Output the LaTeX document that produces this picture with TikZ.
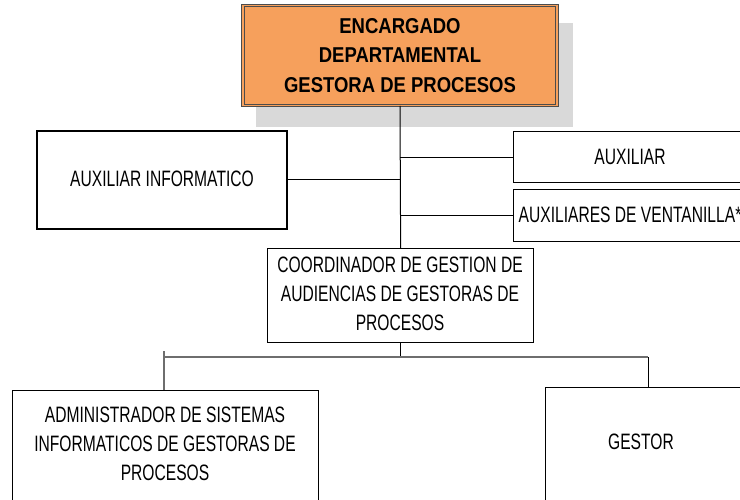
\documentclass[tikz,border=0pt]{standalone}
\usepackage{fontspec}
\setmainfont{Liberation Sans}[FakeStretch=0.70]
\newfontfamily\boldnarrow{Liberation Sans}[FakeStretch=0.86]
\definecolor{boxorange}{HTML}{F6A05C}
\definecolor{shadowgray}{HTML}{D9D9D9}
\definecolor{busgray}{HTML}{6E6E6E}
\begin{document}
\begin{tikzpicture}[x=1pt,y=-1pt,
  box/.style={draw=black, line width=1.3pt, fill=white, inner sep=0pt},
  txt/.style={align=center, font=\fontsize{22.3}{29.2}\selectfont, inner sep=0pt},
  topbox/.style={draw=black!70, fill=boxorange, line width=1pt, double=boxorange, double distance=1.3pt, inner sep=0pt,
    align=center, font=\fontsize{21.5}{29.5}\selectfont\boldnarrow\bfseries},
  link/.style={draw=black, line width=1pt},
  buslink/.style={draw=busgray, line width=1.3pt}
]
\useasboundingbox (0,0) rectangle (740,500);
% shadow
\fill[shadowgray] (256,23) rectangle (573,127);
% top box
\node[topbox, minimum width=314, minimum height=100] (top) at (400,55.5)
  {ENCARGADO\\DEPARTAMENTAL\\GESTORA DE PROCESOS};
% left box
\node[box, minimum width=250, minimum height=98] (auxinf) at (162,180) {};
\node[txt] (auxinftxt) at (162,179) {AUXILIAR INFORMATICO};
% right boxes
\node[box, minimum width=240, minimum height=51, anchor=north west] (aux) at (513,131) {};
\node[txt] (auxtxt) at (630,157) {AUXILIAR};
\node[box, minimum width=240, minimum height=52, anchor=north west] (vent) at (513,189) {};
\node[txt] (venttxt) at (630,215) {AUXILIARES DE VENTANILLA*};
% coordinator
\node[box, minimum width=266, minimum height=94, anchor=north west] (coord) at (267,248) {};
\node[txt] (coordtxt) at (400,294) {COORDINADOR DE GESTION DE\\AUDIENCIAS DE GESTORAS DE\\PROCESOS};
% bottom boxes
\node[box, minimum width=306, minimum height=140, anchor=north west] (admin) at (12,390) {};
\node[txt] (admintxt) at (165,444) {ADMINISTRADOR DE SISTEMAS\\INFORMATICOS DE GESTORAS DE\\PROCESOS};
\node[box, minimum width=220, minimum height=140, anchor=north west] (gestor) at (545,387) {};
\node[txt] (gestortxt) at (641,442) {GESTOR};
% connectors
\coordinate (busL) at (164,357);
\coordinate (busR) at (648,357);
\coordinate (busTop) at (164,351);
\draw[link] (top.south) -- (coord.north);
\draw[link] (auxinf.east) -- (auxinf.east -| top.south);
\draw[link] (aux.west) -- (aux.west -| top.south);
\draw[link] (vent.west) -- (vent.west -| top.south);
\draw[link] (coord.south) -- (coord.south |- busL);
\draw[buslink] (busL) -- (busR);
\draw[buslink] (busTop) -- (admin.north -| busL);
\draw[link] (busR) -- (gestor.north -| busR);
\end{tikzpicture}
\end{document}
